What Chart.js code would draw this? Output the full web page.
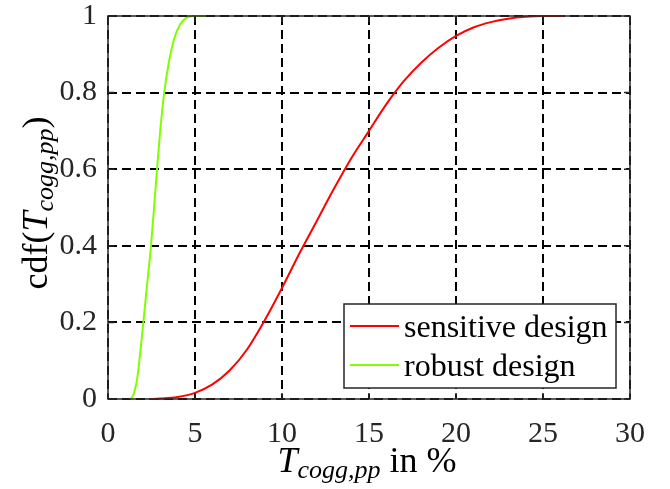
<!DOCTYPE html>
<html>
<head>
<meta charset="utf-8">
<script src="https://cdn.jsdelivr.net/npm/chart.js@4/dist/chart.umd.min.js"></script>
<style>
  html, body { margin: 0; padding: 0; background: #fff; }
  #wrap { width: 670px; height: 489px; }
</style>
</head>
<body>
<div id="wrap"><canvas id="chart" width="670" height="489"></canvas></div>
<script>
// Data
const sensitiveX = [2.36, 3, 4, 5, 6, 7, 8, 9, 10, 11, 12, 13, 14, 15, 16, 17, 18, 19, 20, 21, 22, 23, 24, 25, 26.2];
const sensitiveY = [0, 0.001, 0.005, 0.016, 0.038, 0.075, 0.13, 0.205, 0.29, 0.38, 0.465, 0.55, 0.63, 0.70, 0.77, 0.83, 0.878, 0.917, 0.948, 0.97, 0.984, 0.993, 0.998, 1, 1];
const robustX = [1.26, 1.4, 1.55, 1.7, 1.85, 2.03, 2.25, 2.47, 2.63, 2.8, 3.0, 3.23, 3.5, 3.8, 4.14, 4.5, 5, 5.6];
const robustY = [0, 0.005, 0.025, 0.06, 0.12, 0.2, 0.3, 0.4, 0.49, 0.59, 0.7, 0.8, 0.88, 0.94, 0.978, 0.995, 1, 1];
const xTicks = [0, 5, 10, 15, 20, 25, 30];
const yTicks = [0, 0.2, 0.4, 0.6, 0.8, 1];
const seriesLabels = ['sensitive design', 'robust design'];
const seriesColors = ['#ff0000', '#80ff00'];

const SERIF = '"Liberation Serif", "DejaVu Serif", serif';
const AXIS_COLOR = '#262626';

const toPoints = (xs, ys) => xs.map((x, i) => ({ x, y: ys[i] }));

// draws T_{cogg,pp}-style text pieces: [text, italic, sub]
function drawPieces(ctx, pieces, x, y) {
  let cx = x;
  pieces.forEach(([t, italic, sub]) => {
    const size = sub ? 26 : 36;
    ctx.font = `${italic ? 'italic ' : ''}${size}px ${SERIF}`;
    ctx.fillText(t, cx, sub ? y + 6 : y);
    cx += ctx.measureText(t).width;
  });
}
function measurePieces(ctx, pieces) {
  let w = 0;
  pieces.forEach(([t, italic, sub]) => {
    ctx.font = `${italic ? 'italic ' : ''}${sub ? 26 : 36}px ${SERIF}`;
    w += ctx.measureText(t).width;
  });
  return w;
}

const framePlugin = {
  id: 'frame',
  afterDatasetsDraw(chart) {
    const { ctx, chartArea: a, scales } = chart;
    ctx.save();
    // box
    ctx.strokeStyle = AXIS_COLOR;
    ctx.lineWidth = 1.5;
    ctx.strokeRect(a.left, a.top, a.right - a.left, a.bottom - a.top);
    // inward ticks
    const len = 6;
    ctx.beginPath();
    xTicks.forEach((v) => {
      const px = scales.x.getPixelForValue(v);
      ctx.moveTo(px, a.bottom); ctx.lineTo(px, a.bottom - len);
      ctx.moveTo(px, a.top); ctx.lineTo(px, a.top + len);
    });
    yTicks.forEach((v) => {
      const py = scales.y.getPixelForValue(v);
      ctx.moveTo(a.left, py); ctx.lineTo(a.left + len, py);
      ctx.moveTo(a.right, py); ctx.lineTo(a.right - len, py);
    });
    ctx.stroke();

    // legend
    const lx = 344, ly = 304, lw = 272, lh = 84;
    ctx.fillStyle = '#fff';
    ctx.fillRect(lx, ly, lw, lh);
    ctx.strokeStyle = AXIS_COLOR;
    ctx.lineWidth = 1.5;
    ctx.strokeRect(lx, ly, lw, lh);
    const rows = [326, 365];
    seriesLabels.forEach((label, i) => {
      ctx.strokeStyle = seriesColors[i];
      ctx.lineWidth = 2;
      ctx.beginPath();
      ctx.moveTo(350, rows[i]); ctx.lineTo(399, rows[i]);
      ctx.stroke();
      ctx.fillStyle = '#000';
      ctx.font = `32px ${SERIF}`;
      ctx.textBaseline = 'alphabetic';
      ctx.textAlign = 'left';
      ctx.fillText(label, 404, rows[i] + 11);
    });

    // axis titles
    ctx.fillStyle = '#000';
    ctx.textBaseline = 'alphabetic';
    ctx.textAlign = 'left';
    const xPieces = [['T', true, false], ['cogg,pp', true, true], [' in %', false, false]];
    const xw = measurePieces(ctx, xPieces);
    drawPieces(ctx, xPieces, 367 - xw / 2, 472);

    const yPieces = [['cdf(', false, false], ['T', true, false], ['cogg,pp', true, true], [')', false, false]];
    const yw = measurePieces(ctx, yPieces);
    ctx.translate(47, 203);
    ctx.rotate(-Math.PI / 2);
    drawPieces(ctx, yPieces, -yw / 2, 0);
    ctx.restore();
  },
};

new Chart(document.getElementById('chart').getContext('2d'), {
  type: 'scatter',
  data: {
    datasets: [
      {
        label: seriesLabels[0],
        data: toPoints(sensitiveX, sensitiveY),
        showLine: true,
        borderColor: seriesColors[0],
        borderWidth: 2,
        pointRadius: 0,
        cubicInterpolationMode: 'monotone',
        clip: 4,
      },
      {
        label: seriesLabels[1],
        data: toPoints(robustX, robustY),
        showLine: true,
        borderColor: seriesColors[1],
        borderWidth: 2,
        pointRadius: 0,
        cubicInterpolationMode: 'monotone',
        clip: 4,
      },
    ],
  },
  options: {
    responsive: false,
    animation: false,
    devicePixelRatio: 1,
    layout: { padding: { left: 0, top: 16, right: 40, bottom: 0 } },
    plugins: { legend: { display: false }, tooltip: { enabled: false } },
    scales: {
      x: {
        type: 'linear',
        min: 0,
        max: 30,
        afterBuildTicks: (s) => { s.ticks = xTicks.map((v) => ({ value: v })); },
        afterFit: (s) => { s.height = 90; s.paddingLeft = 0; s.paddingRight = 0; },
        grid: { color: '#000', lineWidth: 2, drawTicks: false },
        border: { display: false, dash: [9, 5] },
        ticks: { color: AXIS_COLOR, padding: 17, font: { family: SERIF, size: 30 } },
      },
      y: {
        type: 'linear',
        min: 0,
        max: 1,
        afterBuildTicks: (s) => { s.ticks = yTicks.map((v) => ({ value: v })); },
        afterFit: (s) => { s.width = 108; s.paddingTop = 0; s.paddingBottom = 0; },
        grid: { color: '#000', lineWidth: 2, drawTicks: false },
        border: { display: false, dash: [9, 5] },
        ticks: {
          color: AXIS_COLOR,
          padding: 11,
          font: { family: SERIF, size: 30 },
          callback: (v) => String(Math.round(v * 10) / 10),
        },
      },
    },
  },
  plugins: [framePlugin],
});
</script>
</body>
</html>
